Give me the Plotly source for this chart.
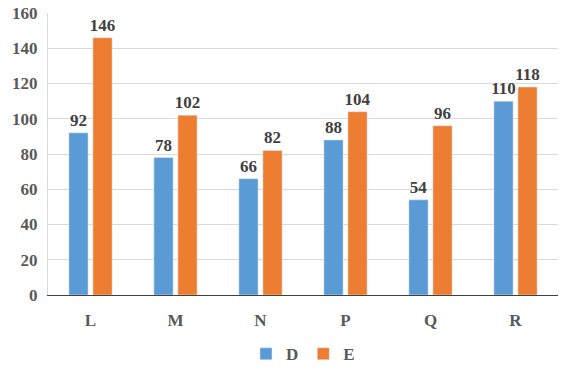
import plotly.graph_objects as go

categories = ["L", "M", "N", "P", "Q", "R"]
series_d = [92, 78, 66, 88, 54, 110]
series_e = [146, 102, 82, 104, 96, 118]
y_ticks = [0, 20, 40, 60, 80, 100, 120, 140, 160]

font_family = "Liberation Serif, Times New Roman, serif"
label_font = dict(family=font_family, size=17, color="#404040", weight="bold")
tick_font = dict(family=font_family, size=17, color="#595959", weight="bold")

fig = go.Figure()
fig.add_trace(go.Bar(
    name="D", x=categories, y=series_d, marker_color="#5B9BD5",
    text=series_d, textposition="outside", textfont=label_font,
    cliponaxis=False, constraintext="none",
))
fig.add_trace(go.Bar(
    name="E", x=categories, y=series_e, marker_color="#ED7D31",
    text=series_e, textposition="outside", textfont=label_font,
    cliponaxis=False, constraintext="none",
))

fig.update_layout(
    width=574, height=374,
    margin=dict(l=48, r=16, t=13, b=79, autoexpand=False),
    paper_bgcolor="white", plot_bgcolor="white",
    barmode="group", bargap=0.435, bargroupgap=0.2,
    font=dict(family=font_family, size=17, color="#595959"),
    showlegend=True,
    legend=dict(orientation="h", x=0.5, xanchor="center", y=-0.21, yanchor="middle",
                font=dict(family=font_family, size=17, color="#595959", weight="bold"),
                itemwidth=30, traceorder="normal"),
)
fig.update_xaxes(
    showline=True, linecolor="#404040", linewidth=1, automargin=False,
    showgrid=False, ticks="", ticklabelstandoff=10, tickfont=tick_font,
)
fig.update_yaxes(
    range=[0, 160], tickvals=y_ticks, showgrid=True, gridcolor="#D9D9D9", gridwidth=1,
    showline=True, linecolor="#D9D9D9", zeroline=False, ticks="", ticklabelstandoff=6,
    automargin=False, tickfont=tick_font,
)

fig.write_html("out.html", config={"displayModeBar": False},
               post_script="document.body.style.margin='0';")
